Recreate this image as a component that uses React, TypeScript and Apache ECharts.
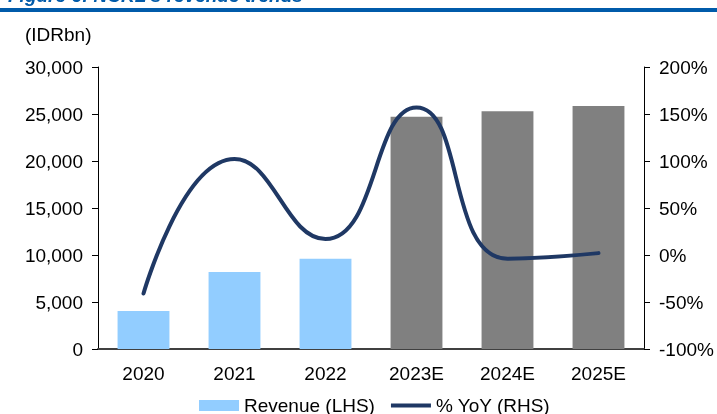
import React, { useEffect, useRef } from "react";
import * as echarts from "echarts";

const categories = ["2020", "2021", "2022", "2023E", "2024E", "2025E"];
const revenue = [4050, 8200, 9600, 24700, 25300, 25850];
const yoy = [-41, 102, 17, 157, -4, 2];
const barColors = ["#92CDFF", "#92CDFF", "#92CDFF", "#808080", "#808080", "#808080"];
const leftTicks = { min: 0, max: 30000, interval: 5000 };
const rightTicks = { min: -100, max: 200, interval: 50 };

const FONT = "'Liberation Sans', Arial, sans-serif";

export default function App() {
  const ref = useRef<HTMLDivElement>(null);
  useEffect(() => {
    if (!ref.current) return;
    const chart = echarts.init(ref.current, null, { renderer: "svg" });
    chart.setOption({
      animation: false,
      textStyle: { fontFamily: FONT },
      grid: { left: 98, right: 73, top: 67, bottom: 65, containLabel: false },
      graphic: [
        {
          type: "rect",
          shape: { x: 0, y: 8, width: 717, height: 4 },
          style: { fill: "#005BAA" },
        },
        {
          type: "text",
          x: 8,
          y: 5,
          style: {
            text: "Figure 6: NCKL's revenue trends",
            font: "italic bold 19px " + FONT,
            fill: "#005BAA",
            verticalAlign: "bottom",
          },
        },
        {
          type: "text",
          x: 25,
          y: 34,
          style: {
            text: "(IDRbn)",
            font: "19px " + FONT,
            fill: "#000",
            verticalAlign: "middle",
          },
        },
      ],
      legend: {
        left: 199,
        top: 396,
        padding: 0,
        itemWidth: 40,
        itemHeight: 11,
        itemGap: 16,
        textStyle: { fontSize: 19, color: "#000", fontFamily: FONT },
        data: [
          { name: "Revenue (LHS)", icon: "rect", itemStyle: { color: "#92CDFF" } },
          {
            name: "% YoY (RHS)",
            icon: "path://M0,0 L40,0 L40,4 L0,4 Z",
            itemStyle: { color: "#1F3864" },
          },
        ],
      },
      xAxis: {
        type: "category",
        data: categories,
        axisLine: { lineStyle: { color: "#404040", width: 2 } },
        axisTick: { show: false },
        axisLabel: { fontSize: 19, color: "#000", margin: 15, fontFamily: FONT },
      },
      yAxis: [
        {
          type: "value",
          position: "left",
          ...leftTicks,
          splitLine: { show: false },
          axisLine: { show: true, lineStyle: { color: "#000", width: 1 } },
          axisTick: { show: true, length: 6, lineStyle: { color: "#000" } },
          axisLabel: {
            fontSize: 19,
            color: "#000",
            margin: 15,
            fontFamily: FONT,
            formatter: (v: number) => v.toLocaleString("en-US"),
          },
        },
        {
          type: "value",
          position: "right",
          ...rightTicks,
          splitLine: { show: false },
          axisLine: { show: true, lineStyle: { color: "#000", width: 1 } },
          axisTick: { show: true, length: 6, lineStyle: { color: "#000" } },
          axisLabel: {
            fontSize: 19,
            color: "#000",
            margin: 15,
            fontFamily: FONT,
            formatter: (v: number) => v + "%",
          },
        },
      ],
      series: [
        {
          name: "Revenue (LHS)",
          type: "bar",
          yAxisIndex: 0,
          barWidth: "57%",
          itemStyle: { color: "#92CDFF" },
          data: revenue.map((v, i) => ({ value: v, itemStyle: { color: barColors[i] } })),
        },
        {
          name: "% YoY (RHS)",
          type: "line",
          yAxisIndex: 1,
          smooth: 0.5,
          symbol: "none",
          lineStyle: { color: "#1F3864", width: 4, cap: "round" },
          itemStyle: { color: "#1F3864" },
          data: yoy,
        },
      ],
    });
    return () => chart.dispose();
  }, []);
  return (
    <div
      ref={ref}
      style={{ position: "fixed", left: 0, top: 0, width: 717, height: 414, overflow: "hidden" }}
    />
  );
}
